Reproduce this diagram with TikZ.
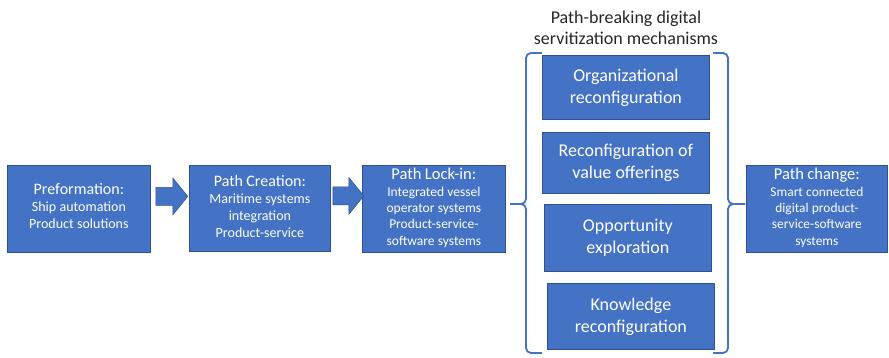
\documentclass[tikz,border=0pt]{standalone}
\usepackage{fontspec}
\setmainfont{Carlito}
\usetikzlibrary{calc}
\definecolor{obox}{HTML}{4472C4}
\definecolor{oedge}{HTML}{2F528F}
\definecolor{otext}{HTML}{262626}
\newcommand{\fs}[2]{\fontsize{#1}{#2}\selectfont}
\begin{document}
\begin{tikzpicture}[x=1pt,y=-1pt,
  box/.style={draw=oedge, line width=0.8pt, fill=obox, anchor=north west, minimum width=#1},
  box/.default=143pt,
  txt/.style={text=white, align=center, inner sep=0pt, text width=140pt},
  mtxt/.style={text=white, align=center, inner sep=0pt, font=\fs{18}{22}},
  blockarrow/.style={fill=obox, draw=oedge, line width=0.5pt},
  brace/.style={draw=obox, line width=1.8pt, rounded corners=5pt}]
\useasboundingbox (0,0) rectangle (889,357);
% main chain
\node[box=143pt, minimum height=87pt] (b1) at (7,165) {};
\node[txt] (t1) at ($(b1.center)+(0,-3)$)
  {\fs{16}{18}Preformation:\par\fs{14}{17}Ship automation\\Product solutions\par};
\node[box=141pt, minimum height=86pt] (b2) at (189,165) {};
\node[txt] (t2) at ($(b2.center)+(0,-2)$)
  {\fs{16}{18}Path Creation:\par\fs{14}{17}Maritime systems\\integration\\Product-service\par};
\node[box=143pt, minimum height=87pt] (b3) at (362,165) {};
\node[txt] (t3) at ($(b3.center)+(0,-1)$)
  {\fs{16.5}{17}Path Lock-in:\par\fs{13.5}{16.3}Integrated vessel\\operator systems\\Product-service-\\software systems\par};
\node[box=141pt, minimum height=87pt] (b5) at (746,165) {};
\node[txt] (t5) at ($(b5.center)+(0,-1)$)
  {\fs{16.5}{17}Path change:\par\fs{13.4}{16.3}Smart connected\\digital product-\\service-software\\systems\par};
% mechanisms
\node[box=167pt, minimum height=64pt, mtxt, anchor=north west] (m1) at (542,55)
  {Organizational\\reconfiguration};
\node[box=167pt, minimum height=61pt, mtxt, anchor=north west] (m2) at (542,132)
  {Reconfiguration of\\value offerings};
\node[box=167pt, minimum height=67pt, mtxt, anchor=north west] (m3) at (544,204)
  {Opportunity\\exploration};
\node[box=167pt, minimum height=66pt, mtxt, anchor=north west] (m4) at (547,283)
  {Knowledge\\reconfiguration};
\node[text=otext, align=center, inner sep=0pt, font=\fs{18}{21}] (title) at (626,28)
  {Path-breaking digital\\servitization mechanisms};
% block arrows
\path (b1.east) ++(5,-12.5) coordinate (a1s);
\path[blockarrow] (a1s) ++(0,-9) -- ++(17,0) -- ++(0,-9.5) -- ++(15,18.5) -- ++(-15,18.5) -- ++(0,-9.5) -- ++(-17,0) -- cycle;
\path (b2.east) ++(2,-12.5) coordinate (a2s);
\path[blockarrow] (a2s) ++(0,-9) -- ++(16,0) -- ++(0,-9.5) -- ++(15,18.5) -- ++(-15,18.5) -- ++(0,-9.5) -- ++(-16,0) -- cycle;
% braces
\draw[brace] (542,53) -- (526,53) -- (526,204) -- (510,204);
\draw[brace] (542,353) -- (526,353) -- (526,204) -- (510,204);
\draw[brace] (713,53) -- (728,53) -- (728,204) -- (745,204);
\draw[brace] (713,353) -- (728,353) -- (728,204) -- (745,204);
\end{tikzpicture}
\end{document}
